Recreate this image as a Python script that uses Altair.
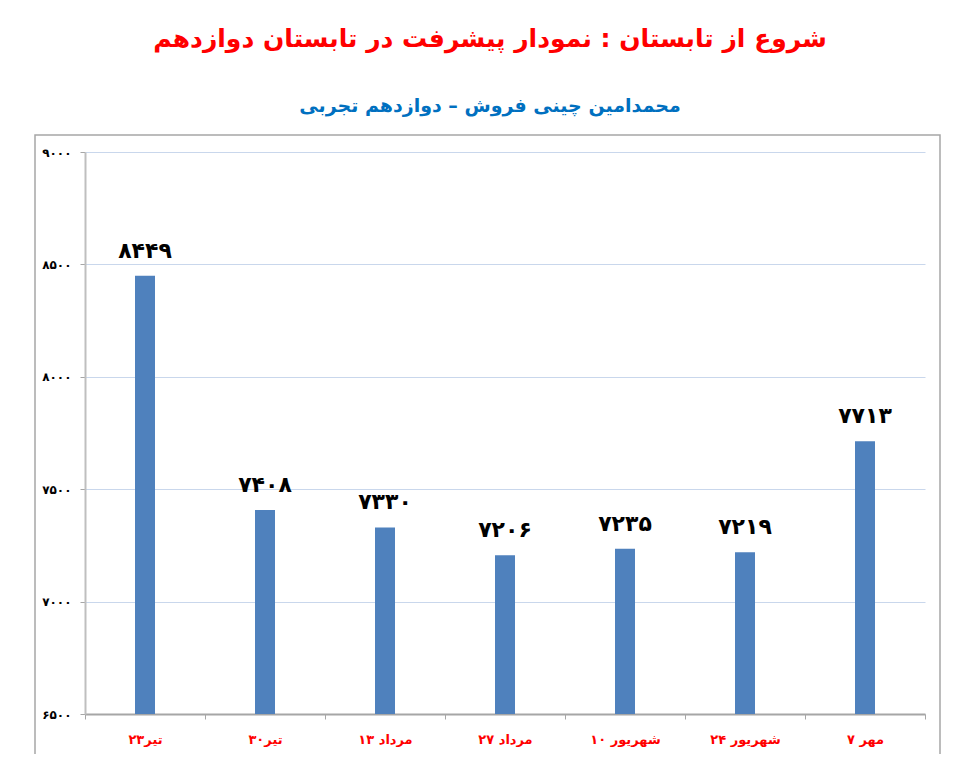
import altair as alt
import pandas as pd

# Data
categories = ["۲۳تیر", "۳۰تیر", "۱۳ مرداد", "۲۷ مرداد", "۱۰ شهریور", "۲۴ شهریور", "۷ مهر"]
values = [8449, 7408, 7330, 7206, 7235, 7219, 7713]
y_ticks = [6500, 7000, 7500, 8000, 8500, 9000]

title_text = "شروع از تابستان : نمودار پیشرفت در تابستان دوازدهم"
subtitle_text = "محمدامین چینی فروش – دوازدهم تجربی"

PERSIAN = str.maketrans("0123456789", "۰۱۲۳۴۵۶۷۸۹")


def fa(n):
    return str(n).translate(PERSIAN)


df = pd.DataFrame({
    "cat": categories,
    "value": values,
    "label": [fa(v) for v in values],
})

tick_expr = " : ".join(
    f"datum.value == {t} ? '{fa(t)}'" for t in y_ticks
) + " : ''"

FONT = "DejaVu Sans"

y_scale = alt.Scale(domain=[6500, 9000], nice=False, zero=False)
x_enc = alt.X(
    "cat:N",
    sort=categories,
    scale=alt.Scale(paddingInner=0, paddingOuter=0),
    axis=alt.Axis(
        title=None,
        labelAngle=0,
        labelColor="#FF0000",
        labelFont=FONT,
        labelFontWeight="bold",
        labelFontSize=13,
        labelPadding=14,
        tickBand="extent",
        tickSize=5,
        tickColor="#A6A6A6",
        domainColor="#A6A6A6",
        domainWidth=2,
        grid=False,
    ),
)

bars = alt.Chart(df).mark_bar(color="#4F81BD", size=20, clip=True).encode(
    x=x_enc,
    y=alt.Y(
        "value:Q",
        scale=y_scale,
        axis=alt.Axis(
            title=None,
            values=y_ticks,
            labelExpr=tick_expr,
            labelFont=FONT,
            labelFontWeight="bold",
            labelFontSize=12,
            labelColor="#000000",
            labelPadding=9,
            tickSize=5,
            tickColor="#A6A6A6",
            domainColor="#BFBFBF",
            domainWidth=2,
            grid=True,
            gridColor="#C9D7EC",
            gridWidth=1,
        ),
    ),
    y2=alt.datum(6500),
)

texts = alt.Chart(df).mark_text(
    font=FONT, fontWeight="bold", fontSize=22, color="#000000",
    baseline="bottom", dy=-13,
).encode(
    x=alt.X("cat:N", sort=categories),
    y=alt.Y("value:Q", scale=y_scale),
    text="label:N",
)

frame = alt.Chart(pd.DataFrame({"a": [0]})).mark_rect(
    fill=None, stroke="#A6A6A6", strokeWidth=1.5, clip=False
).encode(
    x=alt.value(-50), x2=alt.value(855),
    y=alt.value(-17), y2=alt.value(607),
)

chart = alt.layer(frame, bars, texts).properties(
    width=840,
    height=562,
    autosize=alt.AutoSizeParams(type="none"),
    padding={"left": 77, "top": 144, "right": 30, "bottom": 40},
    title=alt.TitleParams(
        text=title_text,
        subtitle=subtitle_text,
        anchor="middle",
        dx=-15,
        offset=18,
        font=FONT,
        fontSize=25,
        fontWeight="bold",
        color="#FF0000",
        subtitleFont=FONT,
        subtitleFontSize=19,
        subtitleFontWeight="bold",
        subtitleColor="#0070C0",
        subtitlePadding=45,
    ),
).configure_view(stroke=None)

chart.save("out.html", embed_options={"renderer": "svg", "actions": False})
